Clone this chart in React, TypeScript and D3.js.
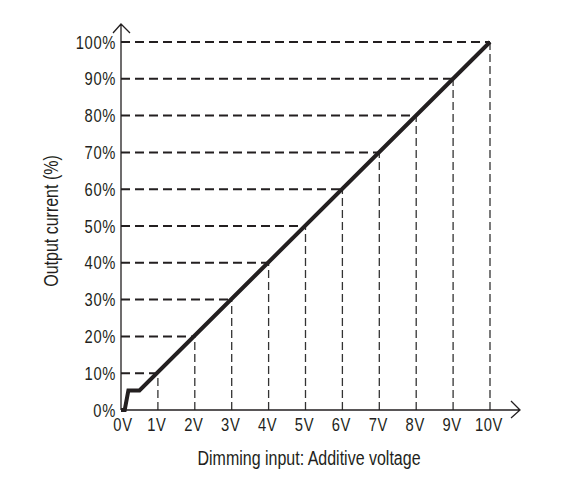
import { useRef, useEffect } from "react";
import * as d3 from "d3";

const voltTicks = [0, 1, 2, 3, 4, 5, 6, 7, 8, 9, 10];
const pctTicks = [0, 10, 20, 30, 40, 50, 60, 70, 80, 90, 100];
// curve: dimming voltage (V) -> output current (%)
const curveV = [0, 0.1, 0.2, 0.5, 10];
const curveP = [0, 0, 5.3, 5.3, 100];
// grid points on the curve that get dashed guides
const guideV = [1, 2, 3, 4, 5, 6, 7, 8, 9, 10];
const guideP = [10, 20, 30, 40, 50, 60, 70, 80, 90, 100];

const W = 565;
const H = 493;
const FONT = "'Liberation Sans', Arial, sans-serif";
const NARROW = 0.82; // squeeze to mimic a narrow face

export default function App() {
  const svgRef = useRef<SVGSVGElement>(null);

  useEffect(() => {
    if (!svgRef.current) return;
    const svg = d3.select(svgRef.current);
    svg.selectAll("*").remove();

    const x = d3.scaleLinear().domain([0, 10]).range([121, 490]);
    const y = d3.scaleLinear().domain([0, 100]).range([410, 42]);
    const ink = "#231f20";

    // horizontal dashed guides
    svg.append("g").selectAll("line").data(guideP).enter().append("line")
      .attr("x1", x(0)).attr("x2", (_, i) => x(guideV[i]))
      .attr("y1", d => y(d)).attr("y2", d => y(d))
      .attr("stroke", ink).attr("stroke-width", 2).attr("stroke-dasharray", "9,5");

    // vertical dashed guides
    svg.append("g").selectAll("line").data(guideV).enter().append("line")
      .attr("x1", d => x(d)).attr("x2", d => x(d))
      .attr("y1", y(0)).attr("y2", (_, i) => y(guideP[i]))
      .attr("stroke", "#333").attr("stroke-width", 1.3).attr("stroke-dasharray", "8,4");

    // axes with open arrowheads
    const x0 = x(0), y0 = y(0);
    svg.append("path")
      .attr("d", `M${x0},${y0}V24M${x0 - 8},33L${x0},24L${x0 + 9},33`)
      .attr("fill", "none").attr("stroke", ink).attr("stroke-width", 1.3);
    svg.append("path")
      .attr("d", `M${x0},${y0}H520M511,${y0 - 9}L520,${y0}L511,${y0 + 8}`)
      .attr("fill", "none").attr("stroke", ink).attr("stroke-width", 1.3);

    // curve
    const line = d3.line<number>().x(d => x(d)).y((_, i) => y(curveP[i]));
    svg.append("path").datum(curveV)
      .attr("d", line)
      .attr("fill", "none").attr("stroke", ink).attr("stroke-width", 4)
      .attr("stroke-linejoin", "miter");

    // tick labels
    svg.append("g").selectAll("text").data(pctTicks).enter().append("text")
      .attr("transform", d => `translate(${x0 - 5},${y(d) + 6.5}) scale(${NARROW},1)`)
      .attr("text-anchor", "end").attr("font-family", FONT).attr("font-size", 18)
      .attr("letter-spacing", 0.8).attr("fill", ink).text(d => `${d}%`);
    svg.append("g").selectAll("text").data(voltTicks).enter().append("text")
      .attr("transform", d => `translate(${x(d) + (d === 0 ? 2 : -1)},${y0 + 21}) scale(${NARROW},1)`)
      .attr("text-anchor", "middle").attr("font-family", FONT).attr("font-size", 18)
      .attr("letter-spacing", 0.8).attr("fill", ink).text(d => `${d}V`);

    // axis titles
    svg.append("text")
      .attr("transform", `translate(309,465) scale(${NARROW},1)`).attr("text-anchor", "middle")
      .attr("font-family", FONT).attr("font-size", 19.5).attr("fill", ink)
      .text("Dimming input: Additive voltage");
    svg.append("text")
      .attr("transform", `translate(58,221) rotate(-90) scale(${NARROW},1)`).attr("text-anchor", "middle")
      .attr("font-family", FONT).attr("font-size", 19.5).attr("fill", ink)
      .text("Output current (%)");
  }, []);

  return (
    <div style={{ position: "absolute", left: 0, top: 0, width: W, height: H, background: "#fff" }}>
      <svg ref={svgRef} width={W} height={H} />
    </div>
  );
}
